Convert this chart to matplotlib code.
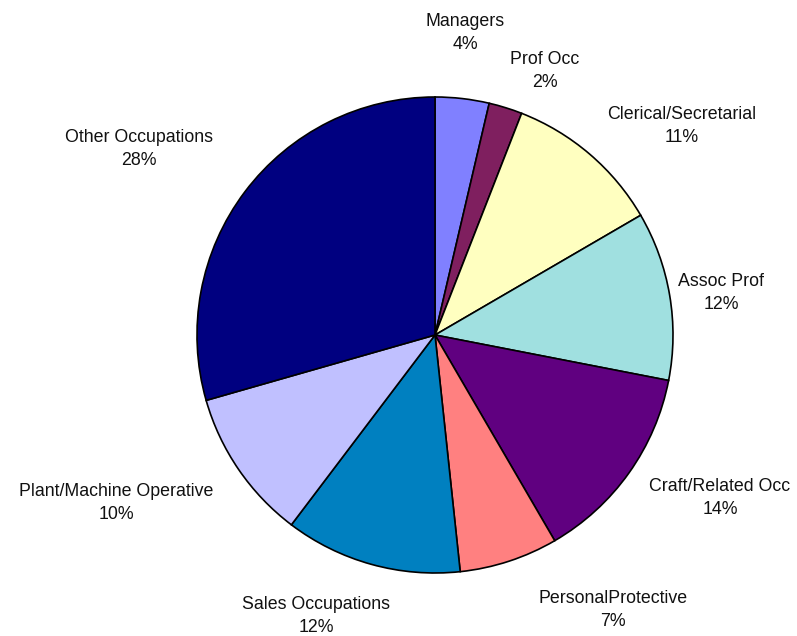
import matplotlib
matplotlib.use("Agg")
import matplotlib.pyplot as plt

categories = ["Managers", "Prof Occ", "Clerical/Secretarial", "Assoc Prof",
              "Craft/Related Occ", "PersonalProtective", "Sales Occupations",
              "Plant/Machine Operative", "Other Occupations"]
values = [3.66, 2.27, 10.68, 11.45, 13.55, 6.7, 12.0, 10.26, 29.43]
pct_labels = ["4%", "2%", "11%", "12%", "14%", "7%", "12%", "10%", "28%"]
colors = ["#8080FF", "#7F1F5F", "#FFFFC0", "#A0E0E0", "#600080",
          "#FF8080", "#0080C0", "#C0C0FF", "#000080"]
# label centre positions (in pie-radius units)
label_pos = [(0.126, 1.269), (0.462, 1.109), (1.038, 0.878), (1.202, 0.176),
             (1.197, -0.685), (0.748, -1.155), (-0.50, -1.181),
             (-1.340, -0.706), (-1.244, 0.782)]

W, H = 797, 636
cx, cy, R = 435, 335, 238
fig = plt.figure(figsize=(W / 100, H / 100), dpi=100)
ax = fig.add_axes([0, 0, 1, 1])
ax.pie(values, colors=colors, startangle=90, counterclock=False,
       wedgeprops=dict(edgecolor="black", linewidth=1.2), radius=1)
ax.set_xlim(-cx / R, (W - cx) / R)
ax.set_ylim(-(H - cy) / R, cy / R)
ax.set_aspect("equal")
ax.axis("off")

for name, pct, (x, y) in zip(categories, pct_labels, label_pos):
    ax.text(x, y, f"{name}\n{pct}", ha="center", va="center",
            fontsize=12.8, family="Liberation Sans", linespacing=1.5,
            color="#111111")

fig.savefig("out.png", dpi=100)
